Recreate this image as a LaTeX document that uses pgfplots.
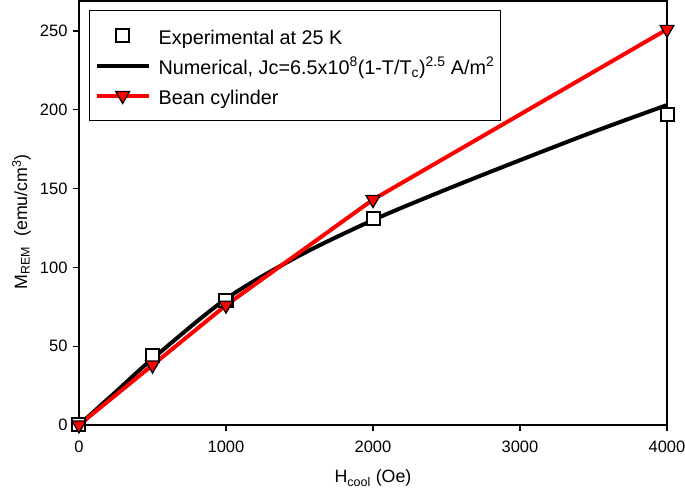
\documentclass[border=0pt]{standalone}
\usepackage{fontspec}
\setmainfont{Liberation Sans}
\usepackage{pgfplots}
\pgfplotsset{compat=1.18}

\definecolor{beanred}{RGB}{255,0,0}

\begin{document}
\begin{tikzpicture}
\begin{axis}[
  name=ax,
  scale only axis,
  width=588pt, height=424pt,
  xmin=0, xmax=4000,
  ymin=0, ymax=269,
  xtick={0,1000,2000,3000,4000},
  ytick={0,50,100,150,200,250},
  tick align=outside,
  xtick pos=left, ytick pos=left,
  major tick length=6pt,
  axis line style={line width=1.3pt},
  every tick/.style={line width=1.3pt, black},
  /pgf/number format/assume math mode=true,
  /pgf/number format/set thousands separator={},
  tick label style={font=\fontsize{16.5}{19}\selectfont},
  xticklabel style={yshift=-6pt},
  yticklabel style={xshift=-2pt},
  label style={font=\fontsize{17.8}{20}\selectfont},
  xlabel={H\textsubscript{cool} (Oe)},
  ylabel={M\textsubscript{REM}\ \ (emu/cm\textsuperscript{3})},
  xlabel style={at={(axis description cs:0.5,0)}, anchor=base, yshift=-58pt},
  ylabel style={at={(axis description cs:-0.0884,0.479)}, anchor=base},
  legend style={
    at={(axis description cs:0.017,0.979)}, anchor=north west,
    draw=black, line width=1.3pt,
    inner xsep=5pt, inner ysep=12.5pt,
    row sep=5pt,
    nodes={inner sep=1pt, text height=20pt, text depth=3pt,
      font=\fontsize{19.8}{23}\selectfont},
    /tikz/every odd column/.append style={column sep=7pt},
  },
  legend cell align=left,
  legend image code/.code={
    \draw[mark repeat=2, mark phase=2, #1]
      plot coordinates {(0pt,0pt) (26pt,0pt) (52pt,0pt)};
  },
]
% Numerical
\addplot[black, line width=4pt, smooth, forget plot] coordinates {
  (0,0) (250,21) (500,42) (1000,80) (1500,107.5) (2000,130)
  (2500,149.5) (3000,168) (3500,186) (4000,203)
};
% Experimental
\addplot[only marks, mark=square*, mark size=6.5pt,
  mark options={draw=black, fill=white, line width=2pt}, forget plot] coordinates {
  (0,0) (500,44) (1000,79) (2000,131) (4000,197)
};
% Bean cylinder
\addplot[beanred, line width=4pt, mark=triangle*, mark size=8pt,
  mark options={rotate=180, draw=black, fill=beanred, line width=1.2pt}, forget plot] coordinates {
  (0,0) (500,38) (1000,76) (2000,143) (4000,251)
};

\addlegendimage{only marks, mark=square*, mark size=6.5pt,
  mark options={draw=black, fill=white, line width=2pt}}
\addlegendentry{Experimental at 25 K}
\addlegendimage{black, line width=4pt}
\addlegendentry{Numerical, Jc=6.5x10\textsuperscript{8}(1-T/T\textsubscript{c})\textsuperscript{2.5} A/m\textsuperscript{2}}
\addlegendimage{beanred, line width=4pt, mark=triangle*, mark size=8pt,
  mark options={rotate=180, draw=black, fill=beanred, line width=1.2pt}}
\addlegendentry{Bean cylinder}
\end{axis}
\pgfresetboundingbox
\path[use as bounding box] ([shift={(-79pt,-69pt)}]ax.south west) rectangle ([shift={(18pt,1pt)}]ax.north east);
\end{tikzpicture}
\end{document}
